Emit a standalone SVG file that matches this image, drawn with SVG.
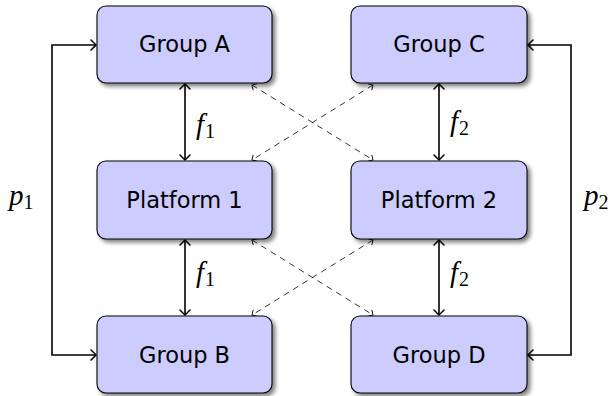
<svg xmlns="http://www.w3.org/2000/svg" width="611" height="396" viewBox="0 0 611 396">
<defs>
<filter id="sh" x="-10%" y="-10%" width="130%" height="140%">
<feGaussianBlur in="SourceAlpha" stdDeviation="2.2"/>
<feOffset dx="2.5" dy="3" result="b"/>
<feComponentTransfer><feFuncA type="linear" slope="0.5"/></feComponentTransfer>
<feMerge><feMergeNode/><feMergeNode in="SourceGraphic"/></feMerge>
</filter>
<marker id="ah" viewBox="-6 -6 8 12" markerWidth="8" markerHeight="12" refX="0" refY="0" orient="auto-start-reverse" markerUnits="userSpaceOnUse">
<path d="M-5,-5 Q-1,-1.2 0,0 Q-1,1.2 -5,5" fill="none" stroke="#000" stroke-width="1.5" stroke-linecap="round"/>
</marker>
<marker id="ahs" viewBox="-5 -4 6 8" markerWidth="6" markerHeight="8" refX="0" refY="0" orient="auto-start-reverse" markerUnits="userSpaceOnUse">
<path d="M-3.5,-3.5 Q-0.8,-0.8 0,0 Q-0.8,0.8 -3.5,3.5" fill="none" stroke="#000" stroke-width="0.9" stroke-linecap="round"/>
</marker>
</defs>
<style>
.box{fill:#ccccff;stroke:#000;stroke-width:1.1;filter:url(#sh)}
.lbl{font-family:"DejaVu Sans",sans-serif;font-size:22.5px;fill:#000;text-anchor:middle}
.m{font-family:"Liberation Serif",serif;font-style:italic;font-size:29px;fill:#000}
.sub{font-family:"Liberation Serif",serif;font-style:normal;font-size:20px}
.solid{fill:none;stroke:#000;stroke-width:1.6;marker-start:url(#ah);marker-end:url(#ah)}
.dash{fill:none;stroke:#000;stroke-width:0.8;stroke-dasharray:6 5;marker-start:url(#ahs);marker-end:url(#ahs)}
</style>
<g id="connectors">
<path class="solid" d="M185,84 V160"/>
<path class="solid" d="M185,240 V315"/>
<path class="solid" d="M439,84 V160"/>
<path class="solid" d="M439,240 V315"/>
<path class="solid" d="M96,45 H52 V355 H96"/>
<path class="solid" d="M528,45 H571 V355 H528"/>
<path class="dash" d="M252,85 L373,160"/>
<path class="dash" d="M373,85 L252,160"/>
<path class="dash" d="M252,240 L373,315"/>
<path class="dash" d="M373,240 L252,315"/>
<text class="m" x="196" y="134">f<tspan class="sub" dx="1" dy="4">1</tspan></text>
<text class="m" x="196" y="282">f<tspan class="sub" dx="1" dy="4">1</tspan></text>
<text class="m" x="450" y="131">f<tspan class="sub" dx="1" dy="4">2</tspan></text>
<text class="m" x="450" y="282">f<tspan class="sub" dx="1" dy="4">2</tspan></text>
<text class="m" x="9" y="205">p<tspan class="sub" dy="4">1</tspan></text>
<text class="m" x="584" y="205">p<tspan class="sub" dy="4">2</tspan></text>
</g>
<g id="groupA"><rect class="box" x="97" y="6" width="175" height="77" rx="9"/><text class="lbl" x="184.5" y="52">Group A</text></g>
<g id="groupC"><rect class="box" x="351" y="6" width="176" height="77" rx="9"/><text class="lbl" x="439" y="52">Group C</text></g>
<g id="platform1"><rect class="box" x="97" y="161" width="175" height="78" rx="9"/><text class="lbl" x="184.5" y="208">Platform 1</text></g>
<g id="platform2"><rect class="box" x="351" y="161" width="176" height="78" rx="9"/><text class="lbl" x="439" y="208">Platform 2</text></g>
<g id="groupB"><rect class="box" x="97" y="316" width="175" height="77" rx="9"/><text class="lbl" x="184.5" y="363">Group B</text></g>
<g id="groupD"><rect class="box" x="351" y="316" width="176" height="77" rx="9"/><text class="lbl" x="439" y="363">Group D</text></g>
</svg>
